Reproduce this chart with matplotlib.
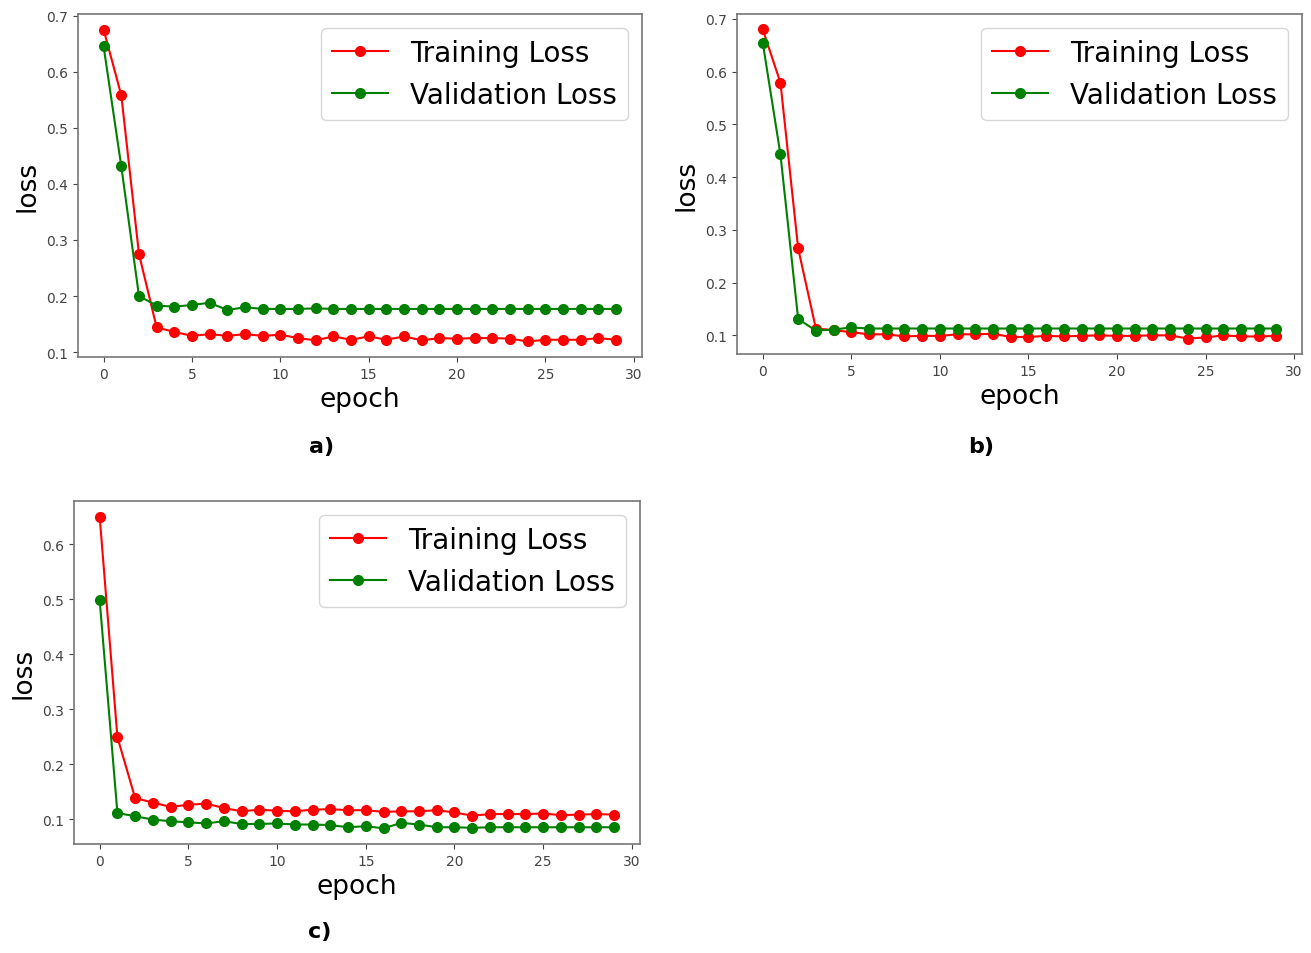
import matplotlib
matplotlib.use("Agg")
import matplotlib.pyplot as plt  # noqa: E402

# ── data ─────────────────────────────────────────────────────────────────────
epochs = list(range(30))

train_a = [0.675, 0.558, 0.275, 0.144, 0.136, 0.129, 0.132, 0.129, 0.132, 0.129,
           0.131, 0.125, 0.121, 0.128, 0.122, 0.128, 0.122, 0.128, 0.121, 0.125,
           0.124, 0.125, 0.125, 0.124, 0.119, 0.122, 0.122, 0.122, 0.125, 0.122]
val_a = [0.645, 0.431, 0.200, 0.183, 0.181, 0.184, 0.188, 0.175, 0.180, 0.177,
         0.177, 0.177, 0.178, 0.177, 0.177, 0.177, 0.177, 0.177, 0.177, 0.177,
         0.177, 0.177, 0.177, 0.177, 0.177, 0.177, 0.177, 0.177, 0.177, 0.177]

train_b = [0.680, 0.579, 0.265, 0.113, 0.110, 0.106, 0.102, 0.102, 0.098, 0.099,
           0.099, 0.102, 0.102, 0.103, 0.097, 0.097, 0.099, 0.098, 0.099, 0.100,
           0.099, 0.099, 0.100, 0.100, 0.094, 0.096, 0.100, 0.098, 0.098, 0.099]
val_b = [0.655, 0.443, 0.131, 0.109, 0.111, 0.115, 0.113, 0.113, 0.113, 0.113,
         0.113, 0.113, 0.113, 0.113, 0.113, 0.113, 0.113, 0.113, 0.113, 0.113,
         0.113, 0.113, 0.113, 0.113, 0.113, 0.113, 0.113, 0.113, 0.113, 0.113]

train_c = [0.650, 0.249, 0.138, 0.130, 0.122, 0.126, 0.128, 0.120, 0.114, 0.117,
           0.115, 0.114, 0.117, 0.118, 0.116, 0.116, 0.113, 0.114, 0.114, 0.116,
           0.112, 0.106, 0.109, 0.109, 0.109, 0.110, 0.107, 0.108, 0.109, 0.108]
val_c = [0.498, 0.111, 0.105, 0.099, 0.096, 0.094, 0.092, 0.096, 0.091, 0.091,
         0.092, 0.090, 0.090, 0.089, 0.085, 0.087, 0.083, 0.093, 0.090, 0.085,
         0.085, 0.084, 0.085, 0.085, 0.085, 0.085, 0.085, 0.085, 0.085, 0.085]

panels = [("a)", train_a, val_a), ("b)", train_b, val_b), ("c)", train_c, val_c)]

# axes rectangles in figure fractions (left, bottom, width, height)
RECTS = [(0.0595, 0.6247, 0.430, 0.3595),
         (0.5622, 0.6279, 0.431, 0.3564),
         (0.0564, 0.1143, 0.4317, 0.3595)]
CAPTIONS_XY = [(0.245, 0.525), (0.748, 0.525), (0.244, 0.017)]

W, H = 1311, 954
fig = plt.figure(figsize=(W / 100, H / 100), dpi=100)

for (cap, tr, va), rect, cxy in zip(panels, RECTS, CAPTIONS_XY):
    ax = fig.add_axes(rect)
    ax.plot(epochs, tr, "o-", color="red", lw=1.5, ms=7, label="Training Loss")
    ax.plot(epochs, va, "o-", color="green", lw=1.5, ms=7, label="Validation Loss")
    ax.set_xlabel("epoch", fontsize=19)
    ax.set_ylabel("loss", fontsize=19)
    ax.set_xticks([0, 5, 10, 15, 20, 25, 30])
    ax.tick_params(labelsize=10, colors="#444444")
    for s in ax.spines.values():
        s.set_color("#777777")
        s.set_linewidth(1.2)
    ax.legend(loc="upper right", fontsize=20)
    fig.text(cxy[0], cxy[1], cap, fontsize=16, fontweight="bold", ha="center")

fig.savefig("out.png", dpi=100)
